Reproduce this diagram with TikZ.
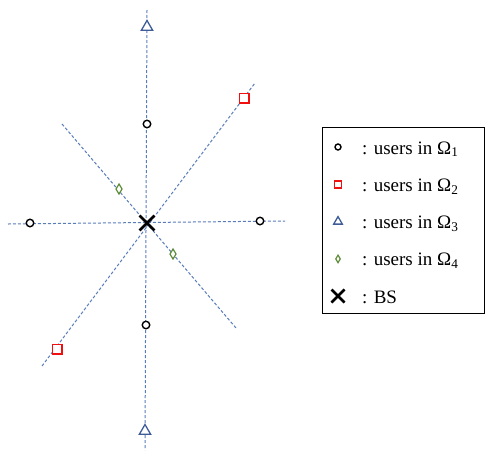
\documentclass[tikz,border=0pt]{standalone}
\usepackage{fontspec}
\setmainfont{Liberation Serif}
\usepackage{tikz}
\usetikzlibrary{shapes.geometric,shapes.misc,positioning}
\definecolor{rayblue}{HTML}{5A7DBA}
\definecolor{triblue}{HTML}{3E5C98}
\definecolor{dmdgreen}{HTML}{5E8C38}
\definecolor{sqred}{HTML}{F01010}

\begin{document}
\begin{tikzpicture}[
  x=1pt, y=-1pt,
  ray/.style={draw=rayblue, dash pattern=on 3pt off 2pt, line width=1pt},
  usrA/.style={circle, draw=black, fill=white, line width=1.4pt, inner sep=0pt, minimum size=7.5pt},
  usrB/.style={rectangle, draw=sqred, fill=white, line width=1.5pt, inner sep=0pt, minimum size=9.5pt},
  usrC/.style={regular polygon, regular polygon sides=3, draw=triblue, fill=white, line width=1.3pt, inner sep=0pt, minimum size=13pt},
  usrD/.style={diamond, draw=dmdgreen, fill=white, line width=1.2pt, inner sep=0pt, minimum width=6.5pt, minimum height=10.5pt},
  bsmark/.style={cross out, draw=black, line width=2.8pt, inner sep=0pt, minimum size=12pt},
  legtxt/.style={anchor=base west, inner sep=0pt, font=\fontsize{19}{22}\selectfont},
]
  \useasboundingbox (0,0) rectangle (486,450);

  % ray end points
  \coordinate (vtop) at (147,10);  \coordinate (vbot) at (145,450);
  \coordinate (hlft) at (8,224);   \coordinate (hrgt) at (285,221);
  \coordinate (slft) at (42,366);  \coordinate (srgt) at (255,83);
  \coordinate (dlft) at (62,124);  \coordinate (drgt) at (236,328);

  \draw[ray] (vtop) -- (vbot);
  \draw[ray] (hlft) -- (hrgt);
  \draw[ray] (slft) -- (srgt);
  \draw[ray] (dlft) -- (drgt);

  % users
  \node[usrA] (a1) at (147,124) {};
  \node[usrA] (a2) at (146,325) {};
  \node[usrA] (a3) at (30,223) {};
  \node[usrA] (a4) at (260,221) {};
  \node[usrB] (b1) at (244,98) {};
  \node[usrB] (b2) at (57,349) {};
  \node[usrC] (c1) at (147,27) {};
  \node[usrC] (c2) at (145,431) {};
  \node[usrD] (d1) at (119,189) {};
  \node[usrD] (d2) at (173,254) {};

  % base station
  \node[bsmark] (bs) at (147,223) {};

  % legend
  \node[draw, line width=1pt, minimum width=162pt, minimum height=186pt] (legend) at (403,220) {};
  \foreach \sty/\mw/\mh [count=\i] in {usrA/6pt/6pt, usrB/7pt/7pt, usrC/10pt/10pt, usrD/5pt/8pt} {
    \node[\sty, minimum width=\mw, minimum height=\mh] (key\i) at (338,{147+37.3*(\i-1)}) {};
    \node[legtxt] (lab\i) at (362,{154+37.3*(\i-1)}) {: users in Ω\textsubscript{\i}};
  }
  \node[bsmark, minimum size=10.5pt, line width=2.5pt] (key5) at (338,296) {};
  \node[legtxt] (lab5) at (362,303) {: BS};
\end{tikzpicture}
\end{document}
